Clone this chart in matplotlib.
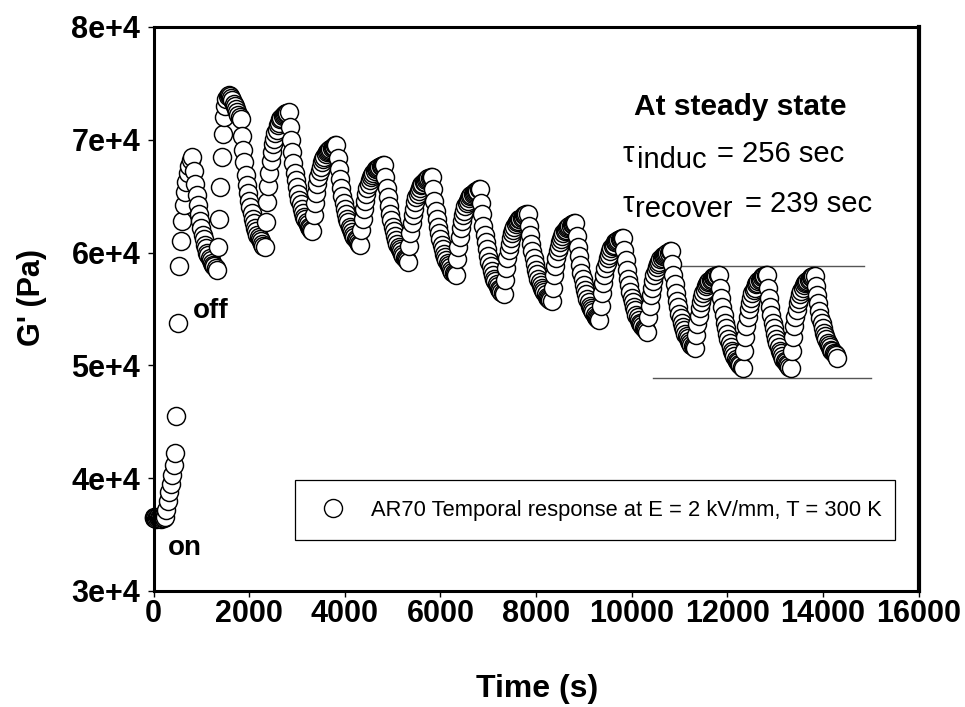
import numpy as np
import matplotlib.pyplot as plt
from matplotlib.lines import Line2D

plt.rcParams['font.family'] = ['Liberation Sans', 'DejaVu Sans']

# G' values below are in units of 1e4 Pa, time in s
# baseline before the field is switched on
base_t = [0, 20, 40, 60, 80, 100, 120, 140, 160, 180, 200, 220, 240]
base_g = [3.66, 3.65, 3.65, 3.64, 3.65, 3.66, 3.65, 3.65, 3.64, 3.65, 3.66, 3.65, 3.66]

# first switch-on
first_on_t = [270, 300, 330, 360, 390, 420, 450, 480, 510, 540, 570, 600, 630, 660, 690, 720, 750, 780, 810]
first_on_g = [3.72, 3.80, 3.88, 3.95, 4.03, 4.12, 4.22, 4.55, 5.38, 5.88, 6.10, 6.28, 6.42, 6.54, 6.63, 6.71, 6.77,
              6.82, 6.85]
# first switch-off, starts at 850 s
first_off_start = 850
first_off_g = [6.72, 6.61, 6.51, 6.42, 6.34, 6.28, 6.22, 6.16, 6.12, 6.07, 6.04, 6.00, 5.98, 5.95, 5.93, 5.91, 5.89,
               5.88, 5.86, 5.85]

# following cycles: field on for 500 s then off for 500 s, one sample every 25 s
dt = 25
cycle_start = [1350, 2350, 3350, 4350, 5350, 6350, 7350, 8350, 9350, 10350, 11350, 12350, 13350]
on_g = [
    [6.05, 6.30, 6.58, 6.85, 7.05, 7.20, 7.30, 7.36, 7.39, 7.40, 7.39, 7.37, 7.35, 7.32, 7.30, 7.27, 7.25, 7.22, 7.20, 7.18],
    [6.27, 6.45, 6.59, 6.71, 6.81, 6.89, 6.96, 7.01, 7.06, 7.09, 7.13, 7.15, 7.18, 7.19, 7.21, 7.22, 7.23, 7.24, 7.24, 7.25],
    [6.33, 6.44, 6.53, 6.61, 6.67, 6.72, 6.76, 6.80, 6.83, 6.85, 6.87, 6.89, 6.90, 6.91, 6.92, 6.93, 6.94, 6.94, 6.95, 6.95],
    [6.20, 6.30, 6.39, 6.46, 6.52, 6.57, 6.61, 6.64, 6.67, 6.69, 6.71, 6.72, 6.74, 6.74, 6.75, 6.76, 6.77, 6.77, 6.78, 6.78],
    [6.06, 6.17, 6.26, 6.33, 6.39, 6.45, 6.49, 6.52, 6.55, 6.57, 6.60, 6.61, 6.63, 6.63, 6.64, 6.65, 6.66, 6.66, 6.67, 6.67],
    [5.94, 6.05, 6.14, 6.22, 6.28, 6.33, 6.37, 6.41, 6.44, 6.46, 6.48, 6.50, 6.51, 6.52, 6.53, 6.54, 6.55, 6.55, 6.56, 6.56],
    [5.76, 5.86, 5.95, 6.02, 6.08, 6.13, 6.17, 6.20, 6.23, 6.25, 6.27, 6.28, 6.30, 6.30, 6.31, 6.32, 6.33, 6.33, 6.34, 6.34],
    [5.69, 5.80, 5.88, 5.95, 6.01, 6.05, 6.09, 6.12, 6.15, 6.17, 6.19, 6.20, 6.22, 6.23, 6.24, 6.24, 6.25, 6.25, 6.26, 6.26],
    [5.53, 5.64, 5.73, 5.80, 5.86, 5.91, 5.95, 5.98, 6.01, 6.04, 6.06, 6.07, 6.09, 6.09, 6.10, 6.11, 6.12, 6.12, 6.13, 6.13],
    [5.43, 5.53, 5.62, 5.69, 5.75, 5.80, 5.84, 5.87, 5.90, 5.92, 5.94, 5.95, 5.97, 5.97, 5.98, 5.99, 6.00, 6.00, 6.01, 6.01],
    [5.27, 5.37, 5.44, 5.51, 5.56, 5.61, 5.64, 5.67, 5.70, 5.72, 5.74, 5.75, 5.76, 5.77, 5.78, 5.78, 5.79, 5.79, 5.80, 5.80],
    [5.13, 5.25, 5.35, 5.43, 5.50, 5.55, 5.60, 5.64, 5.67, 5.69, 5.72, 5.73, 5.75, 5.76, 5.77, 5.78, 5.79, 5.79, 5.80, 5.80],
    [5.13, 5.25, 5.35, 5.43, 5.49, 5.55, 5.59, 5.63, 5.66, 5.69, 5.71, 5.73, 5.74, 5.75, 5.76, 5.77, 5.78, 5.78, 5.79, 5.79],
]
off_g = [
    [7.03, 6.91, 6.80, 6.69, 6.60, 6.53, 6.46, 6.40, 6.35, 6.30, 6.26, 6.22, 6.19, 6.16, 6.14, 6.12, 6.10, 6.08, 6.06, 6.05],
    [7.11, 7.00, 6.89, 6.79, 6.71, 6.64, 6.58, 6.52, 6.47, 6.43, 6.39, 6.35, 6.32, 6.30, 6.27, 6.25, 6.23, 6.22, 6.20, 6.19],
    [6.84, 6.74, 6.65, 6.57, 6.50, 6.44, 6.39, 6.34, 6.30, 6.27, 6.23, 6.21, 6.18, 6.16, 6.14, 6.12, 6.11, 6.09, 6.08, 6.07],
    [6.67, 6.57, 6.49, 6.41, 6.34, 6.29, 6.23, 6.19, 6.15, 6.11, 6.08, 6.05, 6.03, 6.01, 5.99, 5.97, 5.95, 5.94, 5.93, 5.92],
    [6.56, 6.46, 6.37, 6.30, 6.23, 6.17, 6.12, 6.07, 6.03, 5.99, 5.96, 5.93, 5.91, 5.89, 5.87, 5.85, 5.83, 5.82, 5.81, 5.80],
    [6.44, 6.34, 6.24, 6.16, 6.09, 6.03, 5.97, 5.92, 5.88, 5.84, 5.80, 5.77, 5.75, 5.72, 5.70, 5.68, 5.67, 5.65, 5.64, 5.63],
    [6.24, 6.16, 6.08, 6.01, 5.95, 5.90, 5.85, 5.81, 5.77, 5.74, 5.71, 5.69, 5.67, 5.65, 5.63, 5.61, 5.60, 5.59, 5.58, 5.57],
    [6.15, 6.05, 5.97, 5.89, 5.82, 5.77, 5.71, 5.67, 5.63, 5.59, 5.56, 5.53, 5.51, 5.49, 5.47, 5.45, 5.43, 5.42, 5.41, 5.40],
    [6.02, 5.93, 5.85, 5.77, 5.71, 5.65, 5.60, 5.56, 5.52, 5.49, 5.45, 5.43, 5.40, 5.38, 5.37, 5.35, 5.33, 5.32, 5.31, 5.30],
    [5.90, 5.80, 5.72, 5.64, 5.57, 5.52, 5.46, 5.42, 5.38, 5.34, 5.31, 5.28, 5.26, 5.24, 5.22, 5.20, 5.18, 5.17, 5.16, 5.15],
    [5.69, 5.60, 5.52, 5.45, 5.38, 5.33, 5.28, 5.23, 5.20, 5.16, 5.13, 5.11, 5.08, 5.06, 5.04, 5.03, 5.01, 5.00, 4.99, 4.98],
    [5.69, 5.60, 5.52, 5.45, 5.38, 5.33, 5.28, 5.23, 5.20, 5.16, 5.13, 5.11, 5.08, 5.06, 5.04, 5.03, 5.01, 5.00, 4.99, 4.98],
    [5.70, 5.62, 5.55, 5.48, 5.42, 5.38, 5.33, 5.29, 5.26, 5.23, 5.20, 5.18, 5.16, 5.14, 5.13, 5.11, 5.10, 5.09, 5.07],
]

# steady state band
ss_high, ss_low = 5.88, 4.89
ss_high_t = [10530, 14850]
ss_low_t = [10450, 15000]

t = list(base_t) + list(first_on_t)
g = list(base_g) + list(first_on_g)
t += [first_off_start + i * dt for i in range(len(first_off_g))]
g += first_off_g
for s, gon, goff in zip(cycle_start, on_g, off_g):
    t += [s + i * dt for i in range(len(gon))]
    g += gon
    t += [s + 500 + i * dt for i in range(len(goff))]
    g += goff
t = np.array(t)
g = np.array(g) * 1e4

fig = plt.figure(figsize=(9.65, 7.07), dpi=100)
ax = fig.add_axes([153.5 / 965, (707 - 591) / 707, 765 / 965, 564 / 707])

ax.plot(ss_high_t, [ss_high * 1e4] * 2, color='#555555', lw=1.0, zorder=1)
ax.plot(ss_low_t, [ss_low * 1e4] * 2, color='#555555', lw=1.0, zorder=1)
ax.plot(t, g, ls='none', marker='o', ms=13, mfc='white', mec='black', mew=1.05, zorder=2, clip_on=False)

ax.set_xlim(0, 16000)
ax.set_ylim(3e4, 8e4)
xt = [0, 2000, 4000, 6000, 8000, 10000, 12000, 14000, 16000]
yt = [3e4, 4e4, 5e4, 6e4, 7e4, 8e4]
ax.set_xticks(xt)
ax.set_xticklabels([str(v) for v in xt])
ax.set_yticks(yt)
ax.set_yticklabels(['3e+4', '4e+4', '5e+4', '6e+4', '7e+4', '8e+4'])
ax.tick_params(direction='out', length=4.5, width=1.0, labelsize=22)
ax.tick_params(axis='x', pad=1.5)
ax.tick_params(axis='y', pad=5)
for lab in ax.get_xticklabels() + ax.get_yticklabels():
    lab.set_fontweight('bold')

for side in ['left', 'bottom', 'top']:
    ax.spines[side].set_linewidth(2.2)
ax.spines['right'].set_linewidth(3.0)

ax.set_xlabel('Time (s)', fontsize=23, fontweight='bold')
ax.xaxis.set_label_coords(0.501, -0.147)
ax.set_ylabel("G' (Pa)", fontsize=22, fontweight='bold')
ax.yaxis.set_label_coords(-0.139, 0.521)

ax.text(300, 3.32e4, 'on', fontsize=20, fontweight='bold', va='baseline')
ax.text(830, 5.42e4, 'off', fontsize=20, fontweight='bold', va='baseline')

tr = ax.transAxes
ax.text(0.767, 0.844, 'At steady state', transform=tr, fontsize=21.5, fontweight='bold', ha='center', va='baseline')
ax.text(0.6137, 0.7606, 'τ', transform=tr, fontsize=21, va='baseline')
ax.text(0.632, 0.750, 'induc', transform=tr, fontsize=21, va='baseline')
ax.text(0.7366, 0.7606, '= 256 sec', transform=tr, fontsize=21, va='baseline')
ax.text(0.6137, 0.672, 'τ', transform=tr, fontsize=21, va='baseline')
ax.text(0.6294, 0.663, 'recover', transform=tr, fontsize=21, va='baseline')
ax.text(0.7732, 0.672, '= 239 sec', transform=tr, fontsize=21, va='baseline')

handle = Line2D([], [], ls='none', marker='o', ms=13, mfc='white', mec='black', mew=1.0)
leg = ax.legend([handle], ['AR70 Temporal response at E = 2 kV/mm, T = 300 K'],
                loc='upper left', bbox_to_anchor=(0.185, 0.092, 0.784, 0.105), mode='expand',
                borderaxespad=0, fontsize=15.75, frameon=True, fancybox=False, framealpha=1,
                borderpad=0.9, handlelength=1.67, handletextpad=0.9)
leg.get_frame().set_edgecolor('black')
leg.get_frame().set_linewidth(0.9)

fig.savefig('out.png', dpi=100)
